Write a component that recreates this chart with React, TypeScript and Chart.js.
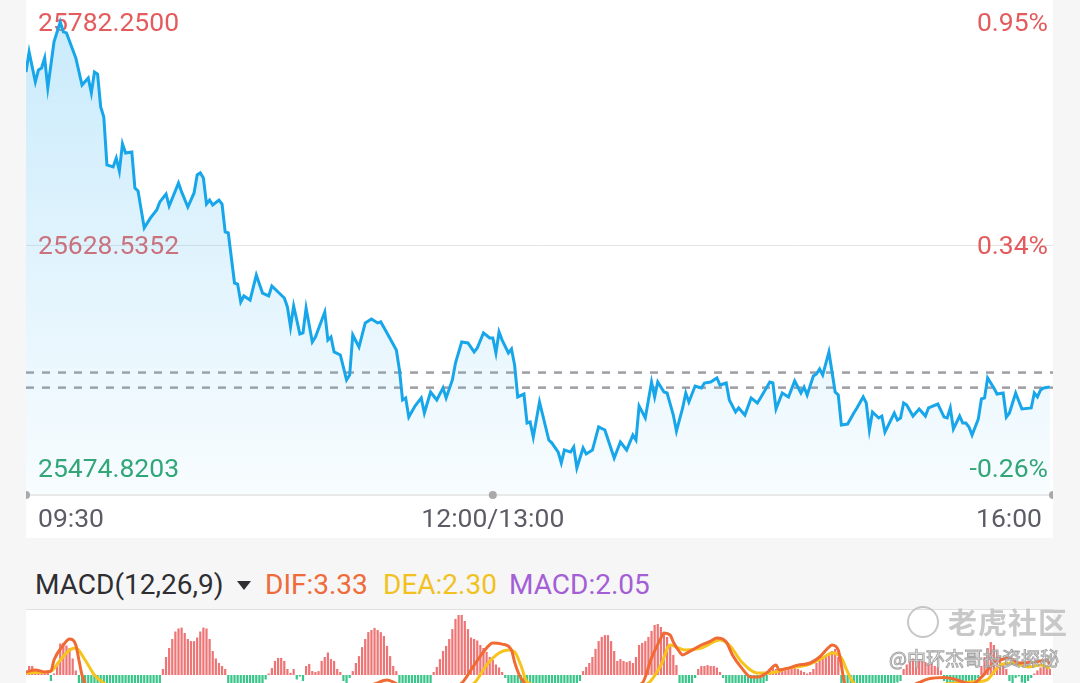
import React, { useEffect, useRef } from 'react';
import { Chart, registerables } from 'chart.js';

Chart.register(...registerables);

// ---------- data ----------
const PRICE_HIGH = 25782.25;
const PRICE_MID = 25628.5352;
const PRICE_LOW = 25474.8203;
const PREV_CLOSE = 25540.6;
const AVG_PRICE = 25530.2;
const PRICE_AXIS_MIN = 25456.2;
const PRICE_AXIS_MAX = 25797.4;
const SESSION_MINUTES = 330;

const priceLevels = [PRICE_LOW, PRICE_MID, PRICE_HIGH];
const timeTickMinutes = [0, 150, 330];
const timeTickLabels = ['09:30', '12:00/13:00', '16:00'];

// [minute since 09:30 (lunch removed), index price]
const pricePoints: [number, number][] = [
  [0, 25747.8], [1, 25761.6], [3, 25740.9], [4, 25749.2], [5, 25750.5], [6, 25757.4], [7, 25736.8],
  [9, 25768.5], [11, 25782.25], [12, 25775.4], [13, 25774.7], [16, 25757.4], [18, 25738.8], [20, 25743.6],
  [21, 25733.3], [22, 25747.8], [23, 25746.4], [24, 25723.7], [25, 25716.8], [26, 25683.7], [28, 25682.3],
  [29, 25688.5], [30, 25679.5], [31, 25698.2], [32, 25691.9], [34, 25692.6], [35, 25667.8], [36, 25665.8],
  [38, 25640.3], [40, 25647.2], [42, 25652.7], [43, 25658.2], [45, 25663.7], [46, 25655.4], [49, 25671.2],
  [50, 25665.1], [52, 25654.7], [54, 25664.4], [55, 25676.8], [56, 25678.2], [57, 25674.7], [58, 25656.8],
  [59, 25659.5], [60, 25656.1], [62, 25659.5], [63, 25656.8], [64, 25637.5], [65, 25636.8], [67, 25602.3],
  [68, 25601.6], [69, 25589.2], [70, 25593.4], [72, 25590.6], [74, 25607.8], [76, 25595.4], [78, 25593.4],
  [79, 25600.3], [83, 25592.0], [84, 25585.8], [85, 25572.0], [86, 25586.5], [88, 25567.2], [89, 25567.9],
  [90, 25585.1], [92, 25561.7], [93, 25565.1], [96, 25582.3], [97, 25563.0], [98, 25565.1], [99, 25554.8],
  [101, 25552.7], [103, 25535.5], [104, 25538.9], [105, 25566.5], [107, 25558.2], [109, 25574.8], [111, 25577.5],
  [113, 25574.8], [114, 25575.5], [116, 25567.9], [119, 25556.1], [120, 25542.4], [121, 25521.7], [122, 25523.1],
  [123, 25509.9], [125, 25517.5], [127, 25523.1], [128, 25512.7], [130, 25527.2], [132, 25521.7], [134, 25530.0],
  [135, 25523.1], [137, 25535.5], [138, 25547.2], [140, 25561.7], [142, 25561.0], [144, 25554.8], [145, 25557.5],
  [147, 25567.9], [149, 25564.4], [150, 25564.4], [151, 25554.1], [152, 25568.6], [153, 25563.0], [155, 25554.1],
  [156, 25556.8], [157, 25545.8], [158, 25523.8], [160, 25525.8], [161, 25505.8], [162, 25506.5], [163, 25496.2],
  [165, 25520.3], [168, 25494.1], [169, 25492.0], [171, 25485.8], [172, 25478.3], [173, 25487.2], [175, 25485.8],
  [176, 25489.3], [177, 25474.82], [179, 25488.6], [180, 25484.5], [182, 25487.2], [184, 25503.1], [186, 25501.0],
  [189, 25481.7], [191, 25492.7], [193, 25487.2], [195, 25497.5], [196, 25494.1], [197, 25517.5], [199, 25509.3],
  [201, 25534.1], [202, 25523.8], [203, 25534.1], [205, 25527.2], [206, 25526.5], [208, 25511.3], [209, 25500.3],
  [211, 25516.2], [212, 25526.5], [213, 25520.3], [215, 25531.3], [217, 25530.0], [218, 25533.4], [220, 25534.1],
  [222, 25536.9], [223, 25532.0], [225, 25533.4], [226, 25521.7], [228, 25513.4], [229, 25516.2], [231, 25511.3],
  [233, 25523.1], [235, 25519.6], [236, 25523.1], [239, 25534.1], [240, 25533.4], [241, 25515.5], [243, 25526.5],
  [245, 25523.8], [247, 25534.8], [249, 25526.5], [250, 25530.6], [251, 25525.1], [253, 25538.2], [254, 25539.6],
  [255, 25543.0], [256, 25538.9], [258, 25554.8], [260, 25527.2], [261, 25525.1], [262, 25504.4], [264, 25505.1],
  [266, 25512.7], [267, 25516.2], [269, 25523.8], [270, 25519.6], [271, 25501.0], [272, 25513.4], [274, 25509.3],
  [275, 25510.6], [276, 25499.6], [279, 25512.7], [280, 25507.9], [281, 25509.3], [282, 25519.6], [283, 25518.2],
  [285, 25510.6], [287, 25515.5], [289, 25510.6], [290, 25516.2], [293, 25518.9], [295, 25509.9], [296, 25509.3],
  [297, 25516.2], [298, 25501.7], [300, 25510.6], [301, 25505.8], [302, 25505.8], [303, 25503.1], [304, 25497.5],
  [306, 25508.6], [307, 25522.4], [308, 25523.1], [309, 25536.9], [311, 25530.0], [312, 25525.8], [314, 25526.5],
  [315, 25509.9], [316, 25512.7], [318, 25526.5], [320, 25515.5], [323, 25516.2], [324, 25526.5], [325, 25523.8],
  [326, 25528.6], [327, 25530.0], [329, 25530.6],
];

// MACD histogram, one bar per minute (0..329)
const macdHist: number[] = [
  // 0-16
  1, 3, 3, 2, 1, 0.7, 0.7, 1.5, -2, 0.5, 4, 10.5, 10.7, 9.8, 9, 5.5, 1.5,
  // 17-43
  -3, -5, -7, -9, -11, -12, -13, -14, -14, -15, -15, -14, -14, -13, -12, -11, -10, -9, -8, -7, -6, -5, -4.5, -4, -3.5, -3, -3,
  // 44-64
  2, 6, 9, 12, 14.5, 15.5, 15.8, 14, 12, 11.3, 11.3, 12.5, 14.5, 15.8, 15.5, 12, 8, 5.5, 4, 3, 2,
  // 65-78
  -3, -5, -7, -8, -9, -9, -8, -7, -6, -5, -4, -3, -1.5, 0.5,
  // 79-84
  2.3, 4.7, 5.7, 5.7, 4.7, 2,
  // 85-104
  0.7, 2, -1.5, -0.5, -2, 3, 3.7, 1.3, 1, 1.3, 4.7, 6, 7.5, 5.3, 4.7, 2, 1, -2, -3, -1,
  // 105-119
  1.3, 4, 6.3, 9.3, 12, 14.3, 15, 15.7, 15, 14.3, 13, 9.7, 6.3, 3, 1.3,
  // 120-130
  -3, -5, -7, -8, -8, -8, -7, -6, -5, -4, -3,
  // 131-154
  1, 2.7, 5.3, 8, 9.7, 12, 15.3, 18.7, 20, 20, 18, 15.3, 12.5, 12, 11.5, 10, 9, 7.7, 6, 5, 3.5, 2.5, 1, -1,
  // 155-178
  -3, -5, -7, -9, -10, -11, -12, -12, -12, -11, -10, -9, -8, -7, -6, -5, -5, -4, -4, -3.5, -3.5, -3, -3, -2,
  // 179-209
  1.3, 2.7, 4, 6, 8.7, 11.3, 12.7, 13.3, 13.3, 11.3, 8, 4.7, 5.3, 4.7, 4.3, 4.7, 4, 6, 10, 10.7,
  11.3, 12.7, 14.7, 16.7, 17, 16, 14, 12.7, 10, 6.7, 3.3,
  // 210-224
  -3, -4, -4, -3.5, -3, -1, 2, 3, 3, 3.3, 3, 3, 2.5, 1, -1,
  // 225-238
  -3, -4, -5, -6, -7, -7, -7, -6, -6, -5, -4, -3.5, -3, -2,
  // 239-252
  1.5, 2.5, 2, 1.5, 2, 1.5, 2.5, 3, 2.5, 2, 1.5, 1, 0.5, 1,
  // 253-261
  2, 4, 5.5, 6, 6.5, 7, 8, 8.7, 6,
  // 262-281
  -3, -5, -7, -9, -10, -11, -11, -10, -9, -8, -7, -6, -5, -4.5, -4, -3.5, -3, -3, -2.5, -2,
  // 282-294
  2, 3.5, 5, 5.5, 5, 5.3, 4.7, 4.3, 3.7, 4, 3, 2.5, 1.5,
  // 295-306
  -2, -3, -3.5, -4, -4, -4, -3.5, -3, -3, -2.5, -2, -1,
  // 307-315
  3, 6, 9, 11, 10, 8, 6, 4, 2,
  // 316-323
  -2, -3, -1, -0.5, -2.5, -3, -2, -1,
  // 324-329
  0.5, 1.5, 2.5, 3, 2.8, 2.05,
];

const difPoints: [number, number][] = [
  [0, 1.0], [3, 1.7], [6, 1.0], [8, 1.3], [9, 5], [12, 10], [14, 12], [16, 10], [17, 5], [18, 0], [20, -5],
  [25, -10], [35, -15], [45, -14], [55, -10], [65, -9], [75, -12], [85, -11], [95, -8], [105, -5], [112, -3],
  [116, -1.7], [120, -3.5], [125, -6], [130, -7], [135, -5], [140, -2.7], [144, 3.3], [148, 9], [150, 10.7],
  [153, 10.3], [156, 8.3], [157, 4.3], [159, -1], [165, -6], [172, -9], [180, -8], [190, -5], [198, -2.7],
  [201, 5.7], [204, 12.3], [205, 14], [207, 13.3], [208, 11], [210, 7.7], [211, 6.7], [213, 7.7], [217, 10],
  [220, 11.3], [222, 12.3], [225, 11], [227, 6.7], [230, 2.3], [233, -0.7], [235, -0.7], [238, 0.7], [241, 3.3],
  [242, 1.7], [245, 2.3], [248, 3.3], [252, 4], [255, 6], [258, 9.3], [259, 10], [261, 8.3], [262, 3.3],
  [263, -2.7], [270, -8], [280, -6], [287, -2.5], [290, -1.3], [295, -0.8], [298, -1.3], [301, -2.3], [304, -3],
  [307, -0.7], [311, 4], [313, 5], [316, 5.7], [319, 4], [324, 4.3], [328, 5], [329, 3.33],
];

const deaPoints: [number, number][] = [
  [0, 0.7], [8, 1.3], [11, 5], [14, 8.3], [16, 9], [19, 5], [22, 0], [25, -2.7], [35, -8], [50, -12], [65, -11],
  [80, -11], [95, -9], [110, -6], [125, -5], [140, -4], [144, -2.7], [148, 3.3], [152, 7.3], [155, 8.3], [157, 7.7],
  [159, 3.3], [161, -2.3], [170, -4.5], [180, -5.5], [195, -4], [200, -2.7], [204, 3.3], [207, 10], [209, 9.3],
  [212, 8.3], [217, 9], [223, 11.7], [226, 10], [230, 4.3], [235, 0.7], [239, 0.7], [245, 2.3], [251, 3.3],
  [256, 5.7], [259, 7.3], [262, 5.7], [264, 1], [266, -2.7], [280, -6], [292, -3.5], [300, -2.5], [306, -2.2],
  [309, -1.5], [311, 1], [313, 3.3], [317, 4], [322, 2.7], [326, 3.3], [329, 2.3],
];

const MACD_AXIS_MIN = -25;
const MACD_AXIS_MAX = 21.667;

const macdTitle = 'MACD(12,26,9)';
const macdLegendLabels = ['DIF:3.33', 'DEA:2.30', 'MACD:2.05'];

// ---------- styles ----------
const RED = '#e35b5d';
const GREEN = '#2ea46e';
const LINE_BLUE = '#18a6ea';
const FONT = 'Roboto, "Noto Sans", sans-serif';

const fmtPct = (v: number) => (((v / PREV_CLOSE) - 1) * 100).toFixed(2) + '%';

const priceOverlay = {
  id: 'priceOverlay',
  beforeDatasetsDraw(chart: any) {
    const { ctx, chartArea, scales } = chart;
    const y = scales.y;
    ctx.save();
    const ym = Math.round(y.getPixelForValue(PRICE_MID)) + 0.5;
    ctx.strokeStyle = '#e4e4e4';
    ctx.lineWidth = 1;
    ctx.beginPath();
    ctx.moveTo(chartArea.left, ym);
    ctx.lineTo(chartArea.right, ym);
    ctx.stroke();
    ctx.font = `26.5px ${FONT}`;
    ctx.textBaseline = 'middle';
    priceLevels.forEach((v) => {
      const py = y.getPixelForValue(v) + 2;
      ctx.fillStyle = v < PREV_CLOSE ? GREEN : RED;
      ctx.textAlign = 'left';
      ctx.fillText(v.toFixed(4), chartArea.left + 12, py);
      ctx.textAlign = 'right';
      ctx.fillText(fmtPct(v), chartArea.right - 5, py);
    });
    ctx.restore();
  },
  afterDatasetsDraw(chart: any) {
    const { ctx, chartArea, scales } = chart;
    const x = scales.x;
    ctx.save();
    ctx.strokeStyle = '#e2e2e2';
    ctx.lineWidth = 1.5;
    ctx.beginPath();
    ctx.moveTo(chartArea.left, chartArea.bottom);
    ctx.lineTo(chartArea.right, chartArea.bottom);
    ctx.stroke();
    ctx.font = `26.5px ${FONT}`;
    ctx.textBaseline = 'middle';
    timeTickMinutes.forEach((m, i) => {
      const px = x.getPixelForValue(m);
      ctx.fillStyle = '#a9a9a9';
      ctx.beginPath();
      ctx.arc(px, chartArea.bottom, 4, 0, Math.PI * 2);
      ctx.fill();
      ctx.fillStyle = '#5c5c66';
      let tx = px;
      if (i === 0) {
        ctx.textAlign = 'left';
        tx = px + 12;
      } else if (i === timeTickMinutes.length - 1) {
        ctx.textAlign = 'right';
        tx = px - 11;
      } else {
        ctx.textAlign = 'center';
      }
      ctx.fillText(timeTickLabels[i], tx, chartArea.bottom + 25);
    });
    ctx.restore();
  },
};

export default function App() {
  const mainRef = useRef<HTMLCanvasElement>(null);
  const macdRef = useRef<HTMLCanvasElement>(null);

  useEffect(() => {
    if (!mainRef.current || !macdRef.current) return;

    const priceChart = new Chart(mainRef.current, {
      type: 'line',
      data: {
        datasets: [
          {
            data: pricePoints.map(([x, y]) => ({ x, y })),
            borderColor: LINE_BLUE,
            borderWidth: 3,
            pointRadius: 0,
            tension: 0,
            fill: 'start',
            order: 0,
            backgroundColor: (c: any) => {
              const area = c.chart.chartArea;
              if (!area) return 'rgba(120,205,245,0.2)';
              const g = c.chart.ctx.createLinearGradient(0, area.top, 0, area.bottom);
              g.addColorStop(0, 'rgba(110,200,245,0.38)');
              g.addColorStop(1, 'rgba(110,200,245,0.05)');
              return g;
            },
          },
          {
            data: [{ x: 0, y: PREV_CLOSE }, { x: SESSION_MINUTES, y: PREV_CLOSE }],
            borderColor: '#9d9da3',
            borderWidth: 2.5,
            borderDash: [8, 8],
            pointRadius: 0,
            fill: false,
            order: 1,
          },
          {
            data: [{ x: 0, y: AVG_PRICE }, { x: SESSION_MINUTES, y: AVG_PRICE }],
            borderColor: '#9d9da3',
            borderWidth: 2.5,
            borderDash: [8, 8],
            pointRadius: 0,
            fill: false,
            order: 2,
          },
        ],
      },
      options: {
        animation: false,
        responsive: false,
        maintainAspectRatio: false,
        layout: { padding: { left: 0, right: 0, top: 0, bottom: 43 } },
        plugins: { legend: { display: false }, tooltip: { enabled: false } },
        scales: {
          x: { type: 'linear', min: 0, max: SESSION_MINUTES, display: false },
          y: { type: 'linear', min: PRICE_AXIS_MIN, max: PRICE_AXIS_MAX, display: false },
        },
      } as any,
      plugins: [priceOverlay],
    });

    const macdChart = new Chart(macdRef.current, {
      type: 'bar',
      data: {
        datasets: [
          {
            type: 'line',
            data: difPoints.map(([x, y]) => ({ x, y })),
            borderColor: '#f06a34',
            borderWidth: 3,
            pointRadius: 0,
            cubicInterpolationMode: 'monotone',
            fill: false,
            order: 0,
          } as any,
          {
            type: 'line',
            data: deaPoints.map(([x, y]) => ({ x, y })),
            borderColor: '#f6c41c',
            borderWidth: 3,
            pointRadius: 0,
            cubicInterpolationMode: 'monotone',
            fill: false,
            order: 1,
          } as any,
          {
            type: 'bar',
            data: macdHist.map((v, i) => ({ x: i, y: v })),
            backgroundColor: macdHist.map((v) => (v >= 0 ? '#ee7576' : '#3cc58b')),
            borderWidth: 0,
            categoryPercentage: 1,
            barPercentage: 0.72,
            order: 2,
          } as any,
        ],
      },
      options: {
        animation: false,
        responsive: false,
        maintainAspectRatio: false,
        layout: { padding: 0 },
        plugins: { legend: { display: false }, tooltip: { enabled: false } },
        scales: {
          x: { type: 'linear', min: 0, max: SESSION_MINUTES, offset: false, display: false },
          y: { type: 'linear', min: MACD_AXIS_MIN, max: MACD_AXIS_MAX, display: false },
        },
      } as any,
    });

    return () => {
      priceChart.destroy();
      macdChart.destroy();
    };
  }, []);

  const legendColors = ['#ef6b3a', '#f1c21f', '#a45fd6'];
  const legendLefts = [265, 383, 509];

  return (
    <div
      style={{
        position: 'fixed',
        left: 0,
        top: 0,
        width: 1080,
        height: 683,
        background: '#f6f6f6',
        overflow: 'hidden',
        fontFamily: FONT,
      }}
    >
      <div style={{ position: 'absolute', left: 26, top: 0, width: 1027, height: 538, background: '#fff' }}>
        <canvas ref={mainRef} width={1027} height={538} style={{ display: 'block' }} />
      </div>

      <div
        style={{
          position: 'absolute',
          left: 35,
          top: 569,
          height: 32,
          lineHeight: '32px',
          fontSize: 28,
          color: '#2e2e33',
          whiteSpace: 'nowrap',
        }}
      >
        {macdTitle}
      </div>
      <div
        style={{
          position: 'absolute',
          left: 237,
          top: 581,
          width: 0,
          height: 0,
          borderLeft: '7px solid transparent',
          borderRight: '7px solid transparent',
          borderTop: '9px solid #2e2e33',
        }}
      />
      {macdLegendLabels.map((t, i) => (
        <div
          key={t}
          style={{
            position: 'absolute',
            left: legendLefts[i],
            top: 569,
            height: 32,
            lineHeight: '32px',
            fontSize: 28,
            color: legendColors[i],
            whiteSpace: 'nowrap',
          }}
        >
          {t}
        </div>
      ))}

      <div style={{ position: 'absolute', left: 26, top: 609, width: 1027, height: 1, background: '#e0e0e0' }} />
      <div style={{ position: 'absolute', left: 26, top: 610, width: 1027, height: 140, background: '#fff' }}>
        <canvas ref={macdRef} width={1027} height={140} style={{ display: 'block' }} />
      </div>

      <div
        style={{
          position: 'absolute',
          left: 907,
          top: 606,
          width: 28,
          height: 28,
          borderRadius: '50%',
          border: '2px solid rgba(185,185,185,0.8)',
        }}
      />
      <div
        style={{
          position: 'absolute',
          left: 948,
          top: 602,
          fontSize: 29,
          lineHeight: '38px',
          fontWeight: 700,
          color: 'rgba(190,190,190,0.85)',
          fontFamily: '"Noto Sans CJK SC", sans-serif',
          letterSpacing: 1,
          whiteSpace: 'nowrap',
        }}
      >
        老虎社区
      </div>
      <div
        style={{
          position: 'absolute',
          left: 889,
          top: 645,
          fontSize: 19,
          lineHeight: '26px',
          color: 'rgba(255,255,255,0.75)',
          WebkitTextStroke: '1px rgba(150,150,150,0.85)',
          fontFamily: '"Noto Sans CJK SC", sans-serif',
          whiteSpace: 'nowrap',
        }}
      >
        @中环杰哥投资探秘
      </div>
    </div>
  );
}
